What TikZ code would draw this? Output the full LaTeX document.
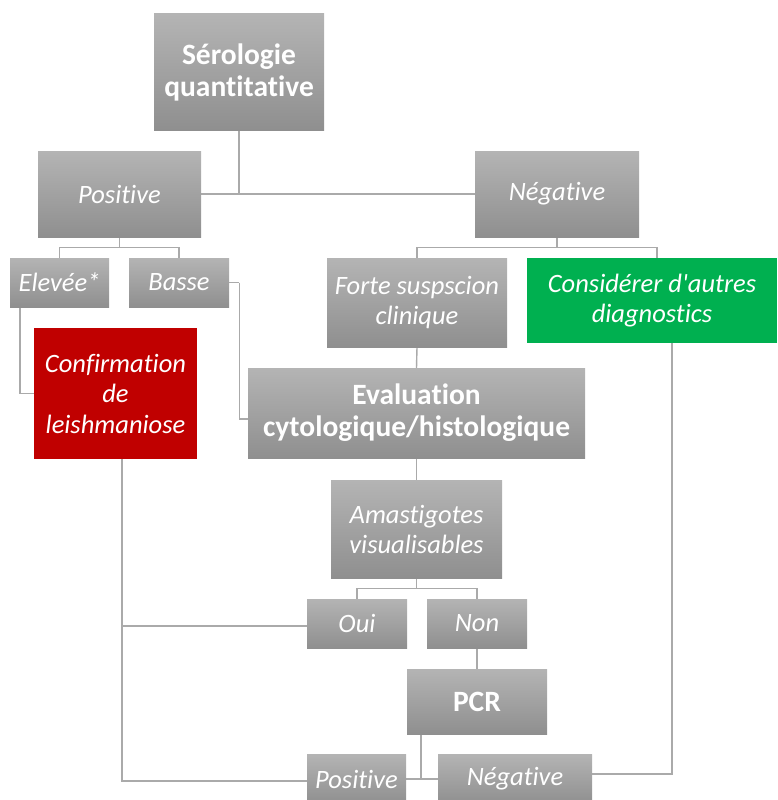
\documentclass[tikz,border=0pt]{standalone}
\usepackage{fontspec}
\newfontfamily\calib{Carlito}[Ligatures=NoCommon]
\usetikzlibrary{backgrounds}
\definecolor{boxtop}{RGB}{180,180,180}
\definecolor{boxbot}{RGB}{143,143,143}
\definecolor{linegray}{RGB}{170,170,170}
\definecolor{redbox}{RGB}{192,0,0}
\definecolor{greenbox}{RGB}{0,176,80}
\tikzset{
  box/.style={draw=none, top color=boxtop, bottom color=boxbot, text=white,
    inner sep=0pt, align=center, font=\calib\fontsize{26.5}{30}\selectfont\itshape},
  boldbox/.style={box, font=\calib\fontsize{29.5}{32}\selectfont\bfseries},
  flatbox/.style={fill=#1, text=white, inner sep=0pt, align=center,
    font=\calib\fontsize{26.5}{30.5}\selectfont\itshape},
  conn/.style={draw=linegray, line width=1.4pt}
}
\begin{document}
\begin{tikzpicture}[x=1pt,y=-1pt]
\useasboundingbox (0,0) rectangle (777,800);
\clip (0,0) rectangle (777,800);
\node[boldbox, minimum width=170pt, minimum height=116pt] (ser) at (239,72) {Sérologie\\quantitative};
\node[box, minimum width=163pt, minimum height=86pt] (pos) at (119.5,194) {Positive};
\node[box, minimum width=164pt, minimum height=86pt] (neg) at (557,194) {Négative};
\node[box, minimum width=99pt, minimum height=49pt] (elev) at (59.5,282.5) {Elevée*};
\node[box, minimum width=100pt, minimum height=49pt] (basse) at (179,282.5) {Basse};
\node[box, minimum width=180pt, minimum height=89pt] (forte) at (417,302.5) {Forte suspscion\\clinique};
\node[flatbox=greenbox, minimum width=250pt, minimum height=85pt] (cons) at (652,300.5) {Considérer d'autres\\diagnostics};
\node[flatbox=redbox, minimum width=163pt, minimum height=131pt] (conf) at (115.5,393.5) {Confirmation\\de\\leishmaniose};
\node[boldbox, minimum width=337pt, minimum height=90pt] (eval) at (416.5,413) {Evaluation\\cytologique/histologique};
\node[box, minimum width=171pt, minimum height=98pt] (amas) at (416.5,529) {Amastigotes\\visualisables};
\node[box, minimum width=100pt, minimum height=49pt] (oui) at (357,623.5) {Oui};
\node[box, minimum width=100pt, minimum height=49pt] (non) at (477,623.5) {Non};
\node[boldbox, minimum width=140pt, minimum height=65pt] (pcr) at (477,701.5) {PCR};
\node[box, minimum width=99pt, minimum height=50pt] (pos2) at (356.5,779) {Positive};
\node[box, minimum width=154pt, minimum height=50pt] (neg2) at (515,779) {Négative};
\begin{pgfonlayer}{background}
\draw[conn] (ser.south) -- (ser.south |- pos.east);
\draw[conn] (pos.east) -- (neg.west);
\draw[conn] (pos.south) -- ++(0,10) coordinate (pj);
\draw[conn] (elev.north) |- (pj) -| (basse.north);
\draw[conn] (neg.south) -- ++(0,10) coordinate (nj);
\draw[conn] (forte.north) |- (nj) -| ([xshift=5pt]cons.north);
\draw[conn] ([xshift=-39.5pt]elev.south) |- (conf.west);
\draw[conn] (basse.east) -- ++(10,0) coordinate (bj);
\draw[conn] (bj) |- ([yshift=-6pt]eval.west);
\draw[conn] (forte.south) -- (eval.north);
\draw[conn] (eval.south) -- (amas.north);
\draw[conn] (amas.south) -- ++(0,10) coordinate (aj);
\draw[conn] (oui.north) |- (aj) -| (non.north);
\draw[conn] (non.south) -- (pcr.north);
\draw[conn] ([xshift=-56pt]pcr.south) coordinate (pj2) -- (pj2 |- pos2.east);
\draw[conn] (pos2.east) -- (neg2.west);
\draw[conn] ([yshift=5pt]neg2.east) -| ([xshift=20pt]cons.south);
\draw[conn] ([xshift=6.5pt]conf.south) coordinate (cj) |- ([yshift=-2pt]pos2.west);
\draw[conn] ([yshift=-2.5pt]oui.west) -- ([yshift=-2.5pt]oui.west -| cj);
\end{pgfonlayer}
\end{tikzpicture}
\end{document}
